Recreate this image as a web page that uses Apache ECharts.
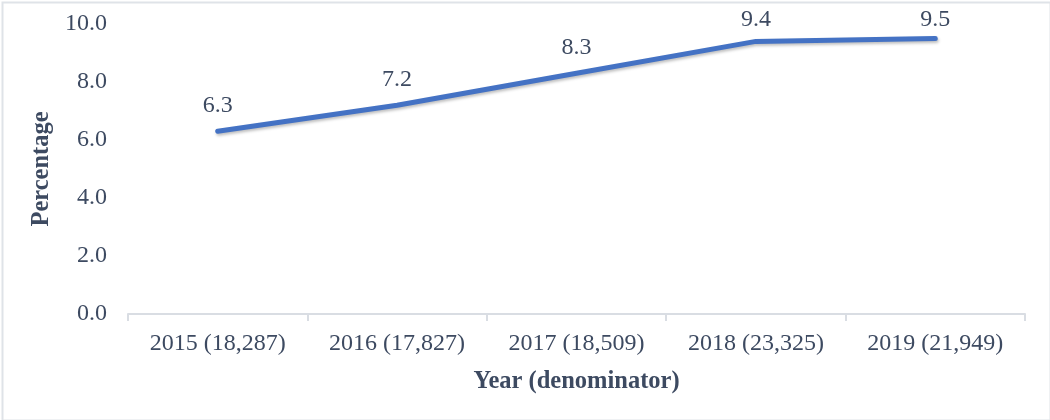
<!DOCTYPE html>
<html>
<head>
<meta charset="utf-8">
<script src="https://cdn.jsdelivr.net/npm/echarts@6/dist/echarts.min.js"></script>
<style>
html,body{margin:0;padding:0;background:#fff;}
#main{width:1050px;height:420px;}
</style>
</head>
<body>
<div id="main"></div>
<script>
const categories = ['2015 (18,287)', '2016 (17,827)', '2017 (18,509)', '2018 (23,325)', '2019 (21,949)'];
const percentages = [6.3, 7.2, 8.3, 9.4, 9.5];
const yTicks = [0, 2, 4, 6, 8, 10];

// label distances above the line (Excel pushes the top labels down inside the plot area)
const labelDistance = [13, 13, 13, 9, 6];

const textColor = '#3d4a61';
const font = '"Liberation Serif", "Times New Roman", serif';
const chart = echarts.init(document.getElementById('main'), null, {renderer: 'canvas'});
chart.setOption({
  backgroundColor: '#fff',
  animation: false,
  graphic: [{
    type: 'rect', left: 0, top: 0, silent: true,
    shape: {x: 1, y: 1, width: 1048, height: 418},
    style: {fill: 'none', stroke: '#dfe3e8', lineWidth: 2}
  }],
  grid: {left: 128, right: 25, top: 24, bottom: 106},
  xAxis: {
    type: 'category',
    data: categories,
    boundaryGap: true,
    name: 'Year (denominator)',
    nameLocation: 'middle',
    nameGap: 55,
    nameTextStyle: {fontFamily: font, fontSize: 24.5, fontWeight: 'bold', color: textColor},
    axisLine: {lineStyle: {color: '#d9dde3', width: 2}},
    axisTick: {show: true, length: 7, lineStyle: {color: '#d9dde3', width: 2}},
    axisLabel: {fontFamily: font, fontSize: 24, color: textColor, margin: 18}
  },
  yAxis: {
    type: 'value',
    min: yTicks[0],
    max: yTicks[yTicks.length - 1],
    interval: 2,
    name: 'Percentage',
    nameLocation: 'middle',
    nameGap: 70,
    nameTextStyle: {fontFamily: font, fontSize: 24.5, fontWeight: 'bold', color: textColor},
    axisLine: {show: false},
    axisTick: {show: false},
    splitLine: {show: false},
    axisLabel: {fontFamily: font, fontSize: 24, color: textColor, margin: 21,
      formatter: v => v.toFixed(1)}
  },
  series: [{
    type: 'line',
    data: percentages.map((v, i) => ({value: v, label: {distance: labelDistance[i]}})),
    symbol: 'circle',
    symbolSize: 1,
    showSymbol: true,
    lineStyle: {color: '#4472c4', width: 5, cap: 'round', join: 'round',
      shadowColor: 'rgba(0,0,0,0.25)', shadowBlur: 3, shadowOffsetX: 1, shadowOffsetY: 2},
    itemStyle: {color: '#4472c4', opacity: 0},
    label: {show: true, position: 'top', distance: 13, fontFamily: font, fontSize: 24, color: textColor,
      opacity: 1, formatter: p => p.value.toFixed(1)}
  }]
});
</script>
</body>
</html>
